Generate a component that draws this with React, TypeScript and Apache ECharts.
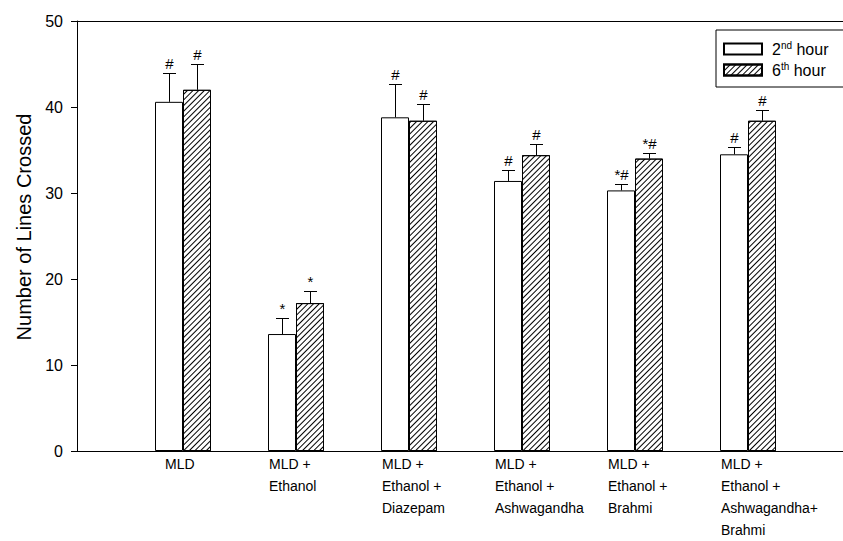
import React, { useEffect, useRef } from 'react';
import * as echarts from 'echarts';

const categories = [
  'MLD',
  'MLD +\nEthanol',
  'MLD +\nEthanol +\nDiazepam',
  'MLD +\nEthanol +\nAshwagandha',
  'MLD +\nEthanol +\nBrahmi',
  'MLD +\nEthanol +\nAshwagandha+\nBrahmi',
];
const seriesNames = ['2nd hour', '6th hour'];
const hour2 = [40.6, 13.6, 38.8, 31.4, 30.3, 34.5];
const hour2Err = [3.3, 1.9, 3.9, 1.3, 0.7, 0.8];
const hour6 = [42.0, 17.2, 38.4, 34.4, 34.0, 38.4];
const hour6Err = [3.0, 1.4, 1.9, 1.3, 0.7, 1.3];
const hour2Marks = ['#', '*', '#', '#', '*#', '#'];
const hour6Marks = ['#', '*', '#', '#', '*#', '#'];
const yMin = 0;
const yMax = 50;
const yInterval = 10;
const yTitle = 'Number of Lines Crossed';

const FONT = "'Liberation Sans', Arial, sans-serif";

export default function App() {
  const ref = useRef<HTMLDivElement>(null);
  useEffect(() => {
    document.body.style.margin = '0';
    if (!ref.current) return;
    const chart = echarts.init(ref.current, undefined, { renderer: 'svg' });
    const BAR_W = 28;
    const hatch = {
      symbol: 'rect',
      symbolSize: 1,
      rotation: -Math.PI / 4,
      dashArrayX: [1, 0],
      dashArrayY: [1, 3],
      color: '#000',
      backgroundColor: '#fff',
    };
    const errSeries = (values: number[], errs: number[], marks: string[], offset: number) => ({
      type: 'custom',
      xAxisIndex: 2,
      yAxisIndex: 1,
      z: 5,
      silent: true,
      encode: { x: 0, y: 1 },
      data: values.map((v, i) => [i, v, errs[i]]),
      renderItem: (params: any, api: any) => {
        const i = api.value(0);
        const v = api.value(1);
        const e = api.value(2);
        const base = api.coord([i, v]);
        const top = api.coord([i, v + e]);
        const x = Math.round(base[0] + offset) + 0.5;
        const ty = Math.round(top[1]) + 0.5;
        return {
          type: 'group',
          children: [
            { type: 'line', shape: { x1: x, y1: base[1], x2: x, y2: ty }, style: { stroke: '#000', lineWidth: 1 } },
            { type: 'line', shape: { x1: x - 6.5, y1: ty, x2: x + 6.5, y2: ty }, style: { stroke: '#000', lineWidth: 1 } },
            {
              type: 'text',
              x,
              y: ty - 3,
              style: { text: marks[params.dataIndex], align: 'center', verticalAlign: 'bottom', fontSize: 15, fontFamily: FONT, fill: '#000' },
            },
          ],
        };
      },
    });
    const gridBase = { top: 21, height: 430, containLabel: false, outerBoundsMode: 'none' };
    const option: any = {
      animation: false,
      textStyle: { fontFamily: FONT },
      legend: {
        orient: 'vertical',
        left: 716,
        top: 30,
        data: seriesNames,
        icon: 'rect',
        itemWidth: 38,
        itemHeight: 11,
        itemGap: 4,
        borderColor: '#000',
        borderWidth: 1,
        borderRadius: 0,
        padding: [10, 32, 9, 7],
        formatter: (name: string) => {
          const m = name.match(/^(\d)(\D+?) (.*)$/);
          if (!m) return name;
          return `{n|${m[1]}}{s|${m[2]}}{t| ${m[3]}}`;
        },
        textStyle: {
          fontSize: 16,
          color: '#000',
          fontFamily: FONT,
          rich: {
            n: { fontSize: 16, lineHeight: 18, fontFamily: FONT, color: '#000', padding: [0, 0, 0, 5] },
            s: { fontSize: 10, lineHeight: 10, verticalAlign: 'top', fontFamily: FONT, color: '#000' },
            t: { fontSize: 16, lineHeight: 18, fontFamily: FONT, color: '#000' },
          },
        },
      },
      grid: [
        { ...gridBase, left: 77, width: 780 },
        { ...gridBase, left: 126.5, width: 678 },
        { ...gridBase, left: 99.5, width: 678 },
      ],
      xAxis: [
        { type: 'value', gridIndex: 0, min: 0, max: 1, position: 'bottom', axisLine: { show: true, lineStyle: { color: '#000', width: 1 } }, axisTick: { show: false }, axisLabel: { show: false }, splitLine: { show: false } },
        { type: 'value', gridIndex: 0, min: 0, max: 1, position: 'top', axisLine: { show: true, onZero: false, lineStyle: { color: '#000', width: 1 } }, axisTick: { show: false }, axisLabel: { show: false }, splitLine: { show: false } },
        { type: 'category', gridIndex: 1, data: categories, axisLine: { show: false }, axisTick: { show: false }, axisLabel: { show: false }, splitLine: { show: false } },
        {
          type: 'category',
          gridIndex: 2,
          data: categories,
          axisLine: { show: false },
          axisTick: { show: false },
          splitLine: { show: false },
          axisLabel: {
            interval: 0,
            hideOverlap: false,
            align: 'left',
            verticalAlign: 'top',
            margin: 2,
            fontSize: 14,
            lineHeight: 22,
            color: '#000',
            fontFamily: FONT,
            formatter: (v: string, idx: number) => (idx === 0 ? `{p|${v}}` : v),
            rich: { p: { fontSize: 14, lineHeight: 22, padding: [0, 0, 0, 9], color: '#000', fontFamily: FONT } },
          },
        },
      ],
      yAxis: [
        {
          type: 'value',
          gridIndex: 0,
          min: yMin,
          max: yMax,
          interval: yInterval,
          name: yTitle,
          nameLocation: 'middle',
          nameGap: 42,
          nameRotate: 90,
          nameTextStyle: { fontSize: 20, color: '#000', fontFamily: FONT, padding: [0, 0, 0, 18] },
          axisLine: { show: true, lineStyle: { color: '#000', width: 1 } },
          axisTick: { show: true, inside: false, length: 6, lineStyle: { color: '#000' } },
          axisLabel: { fontSize: 16, color: '#000', margin: 14, fontFamily: FONT },
          splitLine: { show: false },
        },
        { type: 'value', gridIndex: 1, min: yMin, max: yMax, interval: yInterval, show: false },
        { type: 'value', gridIndex: 2, min: yMin, max: yMax, interval: yInterval, show: false },
      ],
      series: [
        {
          type: 'bar',
          name: seriesNames[0],
          xAxisIndex: 2,
          yAxisIndex: 1,
          data: hour2,
          barWidth: BAR_W,
          barGap: '0%',
          itemStyle: { color: '#fff', borderColor: '#000', borderWidth: 1 },
        },
        {
          type: 'bar',
          name: seriesNames[1],
          xAxisIndex: 2,
          yAxisIndex: 1,
          data: hour6,
          barWidth: BAR_W,
          barGap: '0%',
          itemStyle: { color: '#fff', borderColor: '#000', borderWidth: 1, decal: hatch },
        },
        errSeries(hour2, hour2Err, hour2Marks, -BAR_W / 2),
        errSeries(hour6, hour6Err, hour6Marks, BAR_W / 2),
      ],
    };
    chart.setOption(option);
    return () => chart.dispose();
  }, []);
  return <div ref={ref} style={{ width: 843, height: 541 }} />;
}
